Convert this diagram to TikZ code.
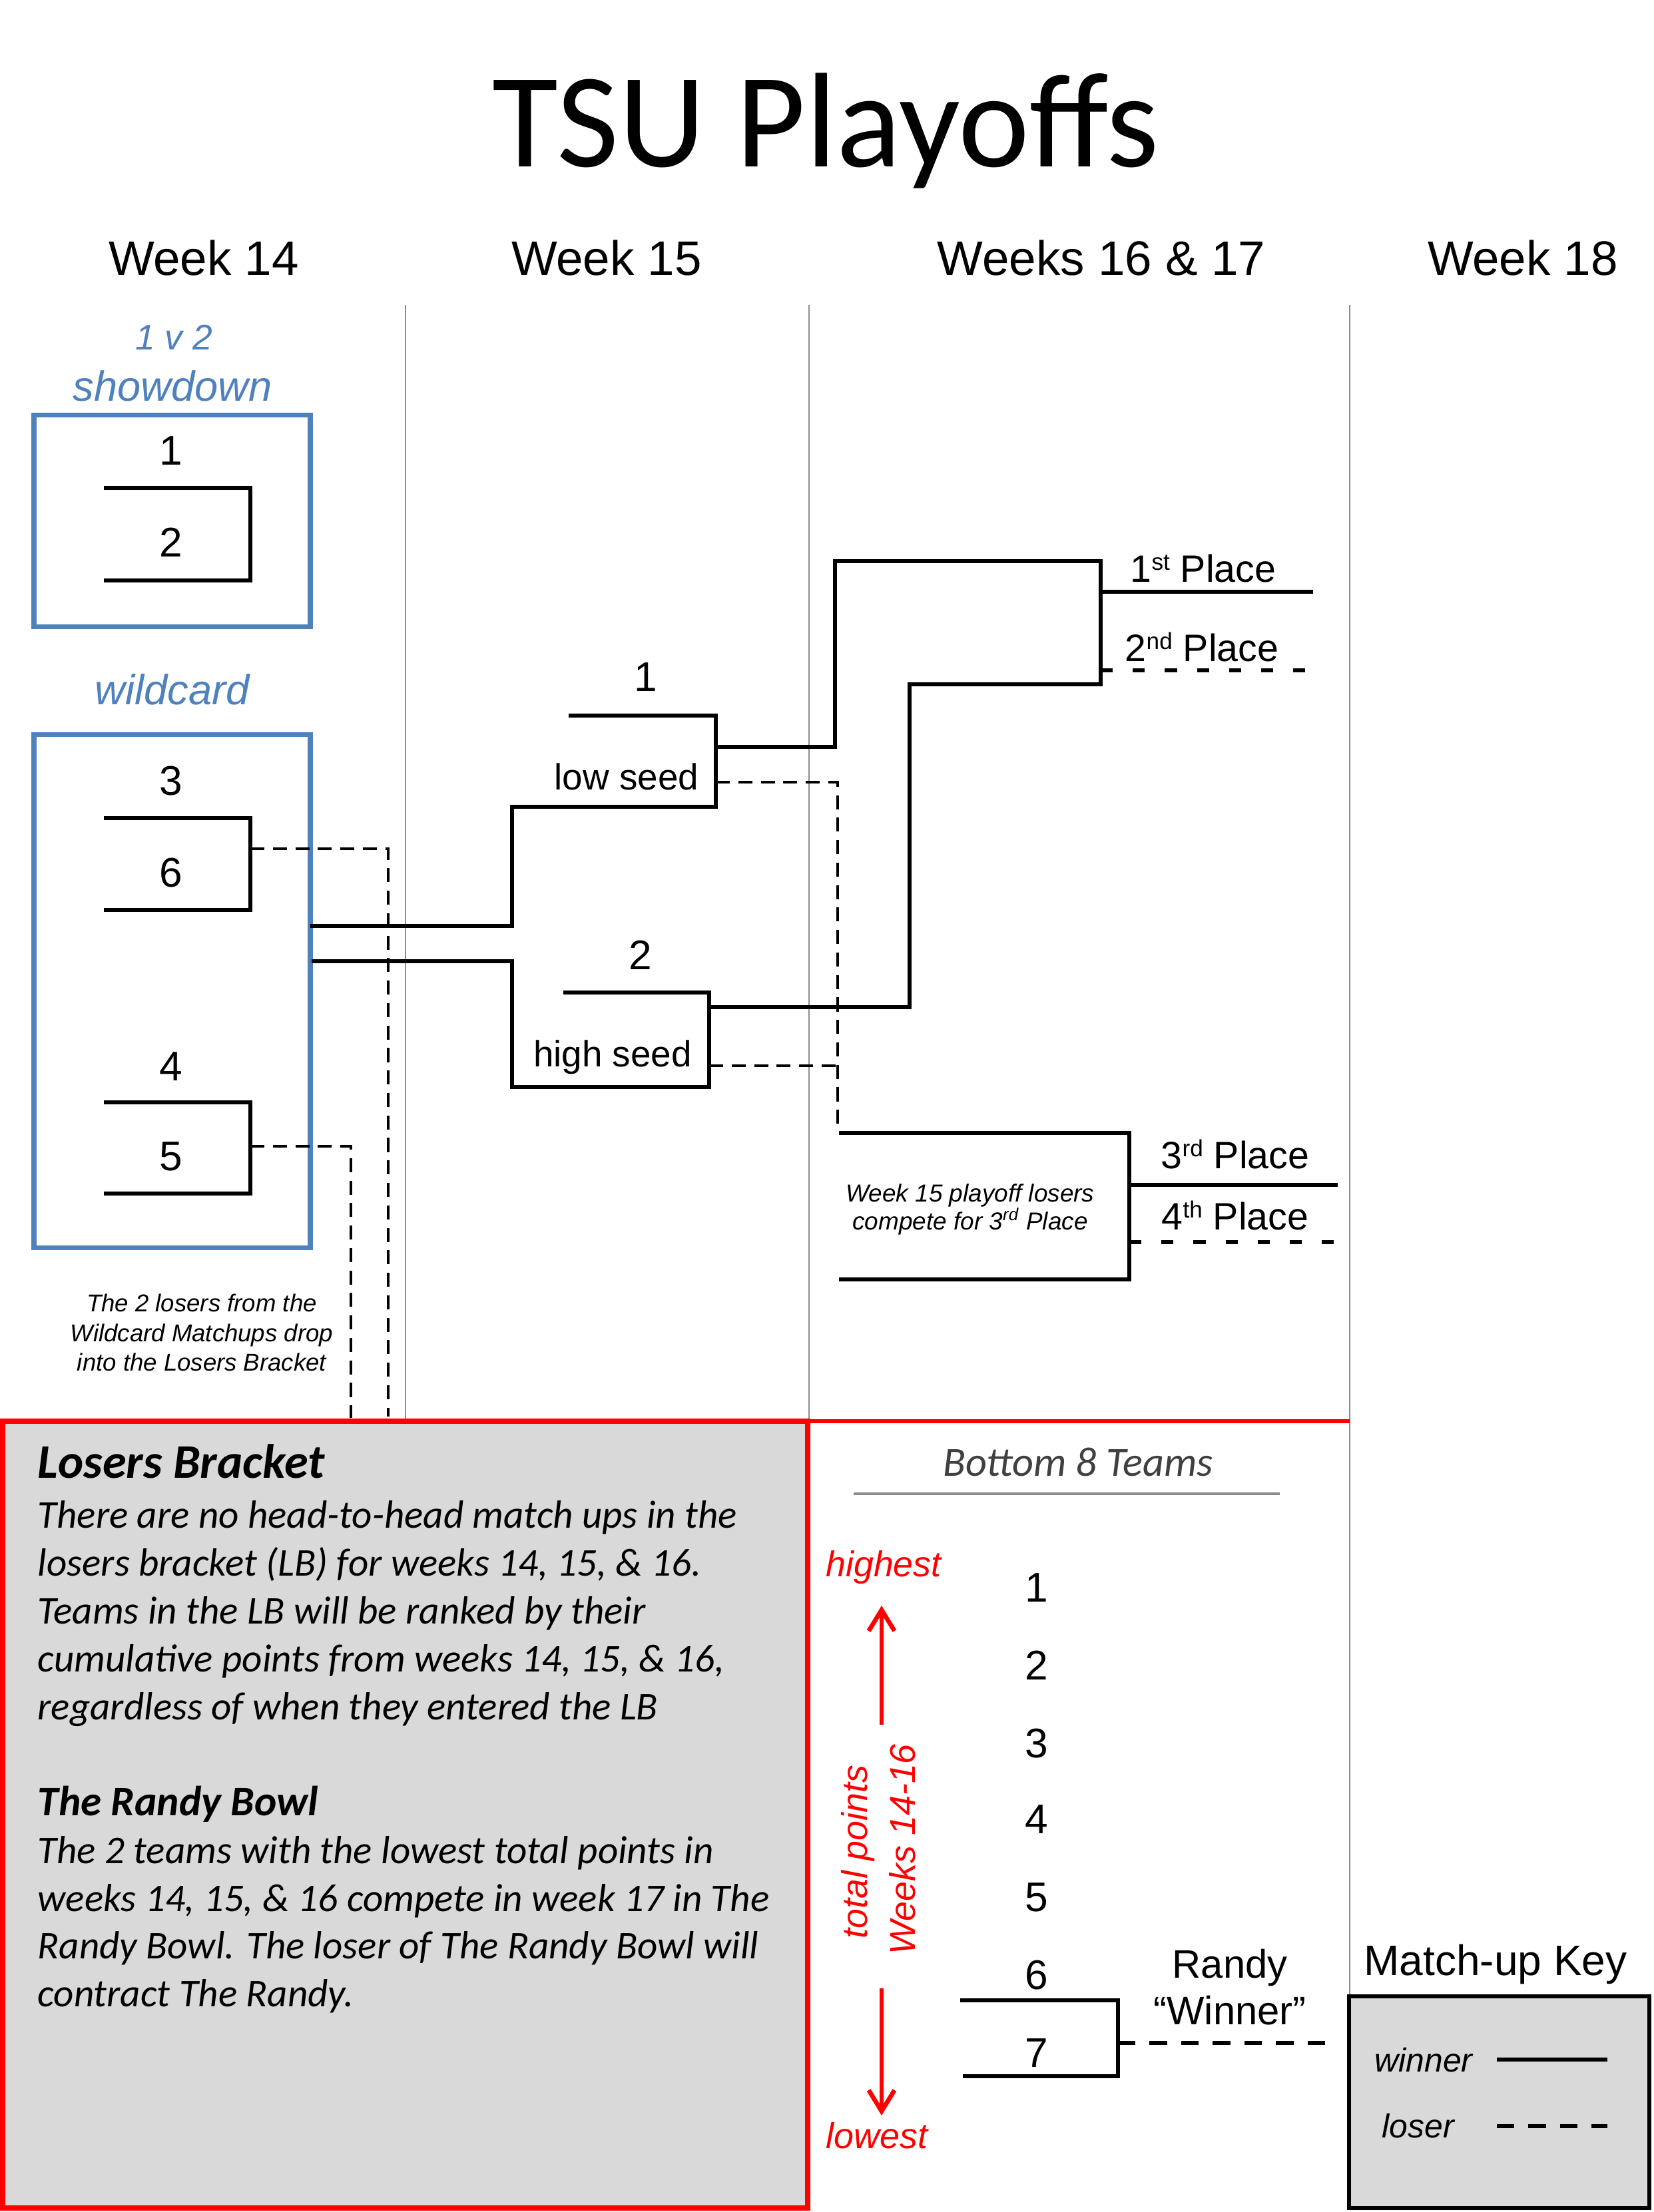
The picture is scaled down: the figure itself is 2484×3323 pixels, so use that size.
\documentclass[tikz,border=0pt]{standalone}
\usepackage{fontspec}
\setmainfont{Liberation Sans}
\newfontfamily\calfont{Carlito}
\usetikzlibrary{arrows.meta}
\definecolor{tsublue}{HTML}{4F81BD}
\definecolor{tsured}{HTML}{FF0000}
\definecolor{boxgray}{HTML}{D9D9D9}
\definecolor{gridgray}{HTML}{8C8C8C}
\definecolor{darktext}{HTML}{404040}
\newcommand{\fsz}[1]{\fontsize{#1}{#1}\selectfont}
\newcommand{\ordsup}[1]{\raisebox{0.3em}{\fontsize{10pt}{10pt}\selectfont #1}}
\tikzset{
  win/.style={draw=black, line width=1.7pt},
  losethin/.style={draw=black, line width=1pt, dash pattern=on 6pt off 3.6pt},
  losethick/.style={draw=black, line width=1.9pt, dash pattern=on 5.2pt off 8.5pt},
  losekey/.style={draw=black, line width=1.7pt, dash pattern=on 7.5pt off 6pt},
  colline/.style={draw=gridgray, line width=0.8pt},
  wkbox/.style={draw=tsublue, line width=2pt},
  seedlbl/.style={font=\fsz{17.7pt}, inner sep=0pt},
  weeklbl/.style={font=\fsz{20.7pt}, anchor=base, inner sep=0pt},
  placelbl/.style={font=\fsz{16.3pt}, anchor=base, inner sep=0pt},
  seedword/.style={font=\fsz{15.6pt}, anchor=base, inner sep=0pt},
  bluelbl/.style={text=tsublue, font=\itshape\fsz{18pt}, inner sep=0pt},
  notelbl/.style={font=\itshape\fsz{10.4pt}, anchor=base, inner sep=0pt},
  redlbl/.style={text=tsured, font=\itshape\fsz{15.3pt}, inner sep=0pt},
  bodyline/.style={font=\calfont\itshape\fsz{16.8pt}, anchor=base west, inner sep=0pt},
  bodyhead/.style={font=\calfont\bfseries\itshape, anchor=base west, inner sep=0pt},
  redarrow/.style={draw=tsured, line width=1.9pt, -{Straight Barb[length=9pt,width=11pt]}},
  keylbl/.style={font=\itshape\fsz{14.2pt}, anchor=base, inner sep=0pt},
}
\begin{document}
\begin{tikzpicture}[x=0.01cm, y=-0.01cm]
\useasboundingbox (0,0) rectangle (2484,3323);
\fill[white] (0,0) rectangle (2484,3323);

% column separators
\draw[colline] (609,458) -- (609,2135);
\draw[colline] (1215,458) -- (1215,2135);
\draw[colline] (2027,458) -- (2027,2999);

% title and week headers
\node[font=\calfont\fsz{57.6pt}, anchor=base, inner sep=0pt] (title) at (1240,250) {TSU Playoffs};
\node[weeklbl] (wk14) at (306,413) {Week 14};
\node[weeklbl] (wk15) at (911,413) {Week 15};
\node[weeklbl] (wk1617) at (1654,413) {Weeks 16 \& 17};
\node[weeklbl] (wk18) at (2287,413) {Week 18};

% week 14 boxes
\node[bluelbl, font=\itshape\fsz{15.2pt}] (onevtwo) at (261,507) {1 v 2};
\node[bluelbl] (showdown) at (259,580) {showdown};
\draw[wkbox] (51,623) rectangle (466,941);
\node[bluelbl] (wildcard) at (259,1036) {wildcard};
\draw[wkbox] (51,1103) rectangle (466,1874);

% showdown bracket
\node[seedlbl] (a1) at (257,677) {1};
\node[seedlbl] (a2) at (257,815) {2};
\coordinate (s1) at (156,733);
\coordinate (s2) at (156,872);
\draw[win] (s1) -- (376,733) -- (376,872) -- (s2);

% wildcard brackets
\node[seedlbl] (a3) at (257,1173) {3};
\node[seedlbl] (a6) at (257,1311) {6};
\node[seedlbl] (a4) at (257,1602) {4};
\node[seedlbl] (a5) at (257,1737) {5};
\coordinate (w36) at (376,1275);
\coordinate (w45) at (376,1722);
\draw[win] (156,1229) -- (376,1229) -- (376,1367) -- (156,1367);
\draw[win] (156,1656) -- (376,1656) -- (376,1793) -- (156,1793);

% wildcard losers drop to losers bracket
\draw[losethin] (w36) -- (583,1275) -- (583,2128);
\draw[losethin] (w45) -- (527,1722) -- (527,2130);

% week 15 brackets
\node[seedlbl] (b1) at (970,1017) {1};
\node[seedword] (lowseed) at (941,1186) {low seed};
\node[seedlbl] (b2) at (962,1435) {2};
\node[seedword] (highseed) at (920,1602) {high seed};
\coordinate (lowend) at (1075,1122);
\coordinate (highend) at (1065,1513);
\draw[win] (854,1075) -- (1075,1075) -- (1075,1212) -- (769,1212) -- (769,1391) -- (466,1391);
\draw[win] (846,1491) -- (1065,1491) -- (1065,1633) -- (769,1633) -- (769,1444) -- (468,1444);

% championship
\coordinate (champ) at (1653,889);
\coordinate (runner) at (1653,1007);
\draw[win] (lowend) -- (1254,1122) -- (1254,843) -- (1653,843) -- (1653,1028) -- (1366,1028) -- (1366,1513) -- (highend);
\draw[win] (champ) -- (1972,889);
\draw[losethick] (runner) -- (1972,1007);
\node[placelbl] (p1) at (1807,874) {1\ordsup{st} Place};
\node[placelbl] (p2) at (1805,993) {2\ordsup{nd} Place};

% third place game
\draw[losethin] (1075,1175) -- (1258,1175) -- (1258,1700);
\draw[losethin] (1065,1601) -- (1258,1601);
\draw[win] (1260,1702) -- (1696,1702) -- (1696,1922) -- (1260,1922);
\draw[win] (1696,1780) -- (2009,1780);
\draw[losethick] (1696,1866) -- (2009,1866);
\node[placelbl] (p3) at (1855,1755) {3\ordsup{rd} Place};
\node[placelbl] (p4) at (1855,1847) {4\ordsup{th} Place};
\node[font=\itshape\fsz{10.5pt}, anchor=base, inner sep=0pt] (thirdnote1) at (1457,1805) {Week 15 playoff losers};
\node[font=\itshape\fsz{10.5pt}, anchor=base, inner sep=0pt] (thirdnote2) at (1457,1847) {compete for 3\textsuperscript{rd} Place};

% wildcard note
\node[notelbl] (wcnote1) at (303,1970) {The 2 losers from the};
\node[notelbl] (wcnote2) at (303,2015) {Wildcard Matchups drop};
\node[notelbl] (wcnote3) at (303,2059) {into the Losers Bracket};

% losers bracket box
\draw[draw=tsured, line width=2.3pt, fill=boxgray] (4,2135) rectangle (1213,3317);
\draw[tsured, line width=1.5pt] (1213,2135) -- (2027,2135);
\node[bodyhead, font=\calfont\bfseries\itshape\fsz{20.6pt}] (lbhead) at (56,2220) {Losers Bracket};
\node[bodyline] (lb1) at (56,2295) {There are no head-to-head match ups in the};
\node[bodyline] (lb2) at (56,2367) {losers bracket (LB) for weeks 14, 15, \& 16.};
\node[bodyline] (lb3) at (56,2439) {Teams in the LB will be ranked by their};
\node[bodyline] (lb4) at (56,2511) {cumulative points from weeks 14, 15, \& 16,};
\node[bodyline] (lb5) at (56,2583) {regardless of when they entered the LB};
\node[bodyhead, font=\calfont\bfseries\itshape\fsz{18pt}] (rbhead) at (56,2727) {The Randy Bowl};
\node[bodyline] (rb1) at (56,2799) {The 2 teams with the lowest total points in};
\node[bodyline] (rb2) at (56,2871) {weeks 14, 15, \& 16 compete in week 17 in The};
\node[bodyline] (rb3) at (56,2942) {Randy Bowl. The loser of The Randy Bowl will};
\node[bodyline] (rb4) at (56,3014) {contract The Randy.};

% bottom 8 teams
\node[font=\calfont\itshape\fsz{17.7pt}, text=darktext, anchor=base, inner sep=0pt] (bottom8) at (1619,2217) {Bottom 8 Teams};
\draw[draw=gridgray, line width=1.1pt] (1282,2244) -- (1922,2244);
\node[redlbl, anchor=base] (highest) at (1327,2368) {highest};
\node[redlbl, anchor=base] (lowest) at (1317,3227) {lowest};
\node[redlbl, rotate=90] (totpts) at (1289,2782) {total points};
\node[redlbl, rotate=90] (wks) at (1355,2778) {Weeks 14-16};
\coordinate (upstart) at (1324,2591);
\coordinate (uptip) at (1324,2412);
\coordinate (dnstart) at (1324,2987);
\coordinate (dntip) at (1324,3178);
\draw[redarrow] (upstart) -- (uptip);
\draw[redarrow] (dnstart) -- (dntip);
\node[seedlbl] (c1) at (1557,2385) {1};
\node[seedlbl] (c2) at (1557,2502) {2};
\node[seedlbl] (c3) at (1557,2619) {3};
\node[seedlbl] (c4) at (1557,2733) {4};
\node[seedlbl] (c5) at (1557,2850) {5};
\node[seedlbl] (c6) at (1557,2967) {6};
\node[seedlbl] (c7) at (1557,3084) {7};
\coordinate (randyend) at (1679,3069);
\draw[win] (1442,3005) -- (1679,3005) -- (1679,3119) -- (1446,3119);
\draw[losekey] (randyend) -- (1998,3069);
\node[placelbl, font=\fsz{17pt}] (randy1) at (1847,2971) {Randy};
\node[placelbl, font=\fsz{17pt}] (randy2) at (1847,3041) {“Winner”};

% key
\node[font=\fsz{18.2pt}, anchor=base, inner sep=0pt] (keytitle) at (2246,2967) {Match-up Key};
\draw[line width=1.9pt, fill=boxgray] (2026,2999) rectangle (2477,3317);
\node[keylbl] (kwin) at (2138,3112) {winner};
\node[keylbl] (klose) at (2130,3211) {loser};
\draw[win] (2248,3094) -- (2414,3094);
\draw[losekey] (2248,3194) -- (2414,3194);
\end{tikzpicture}
\end{document}
